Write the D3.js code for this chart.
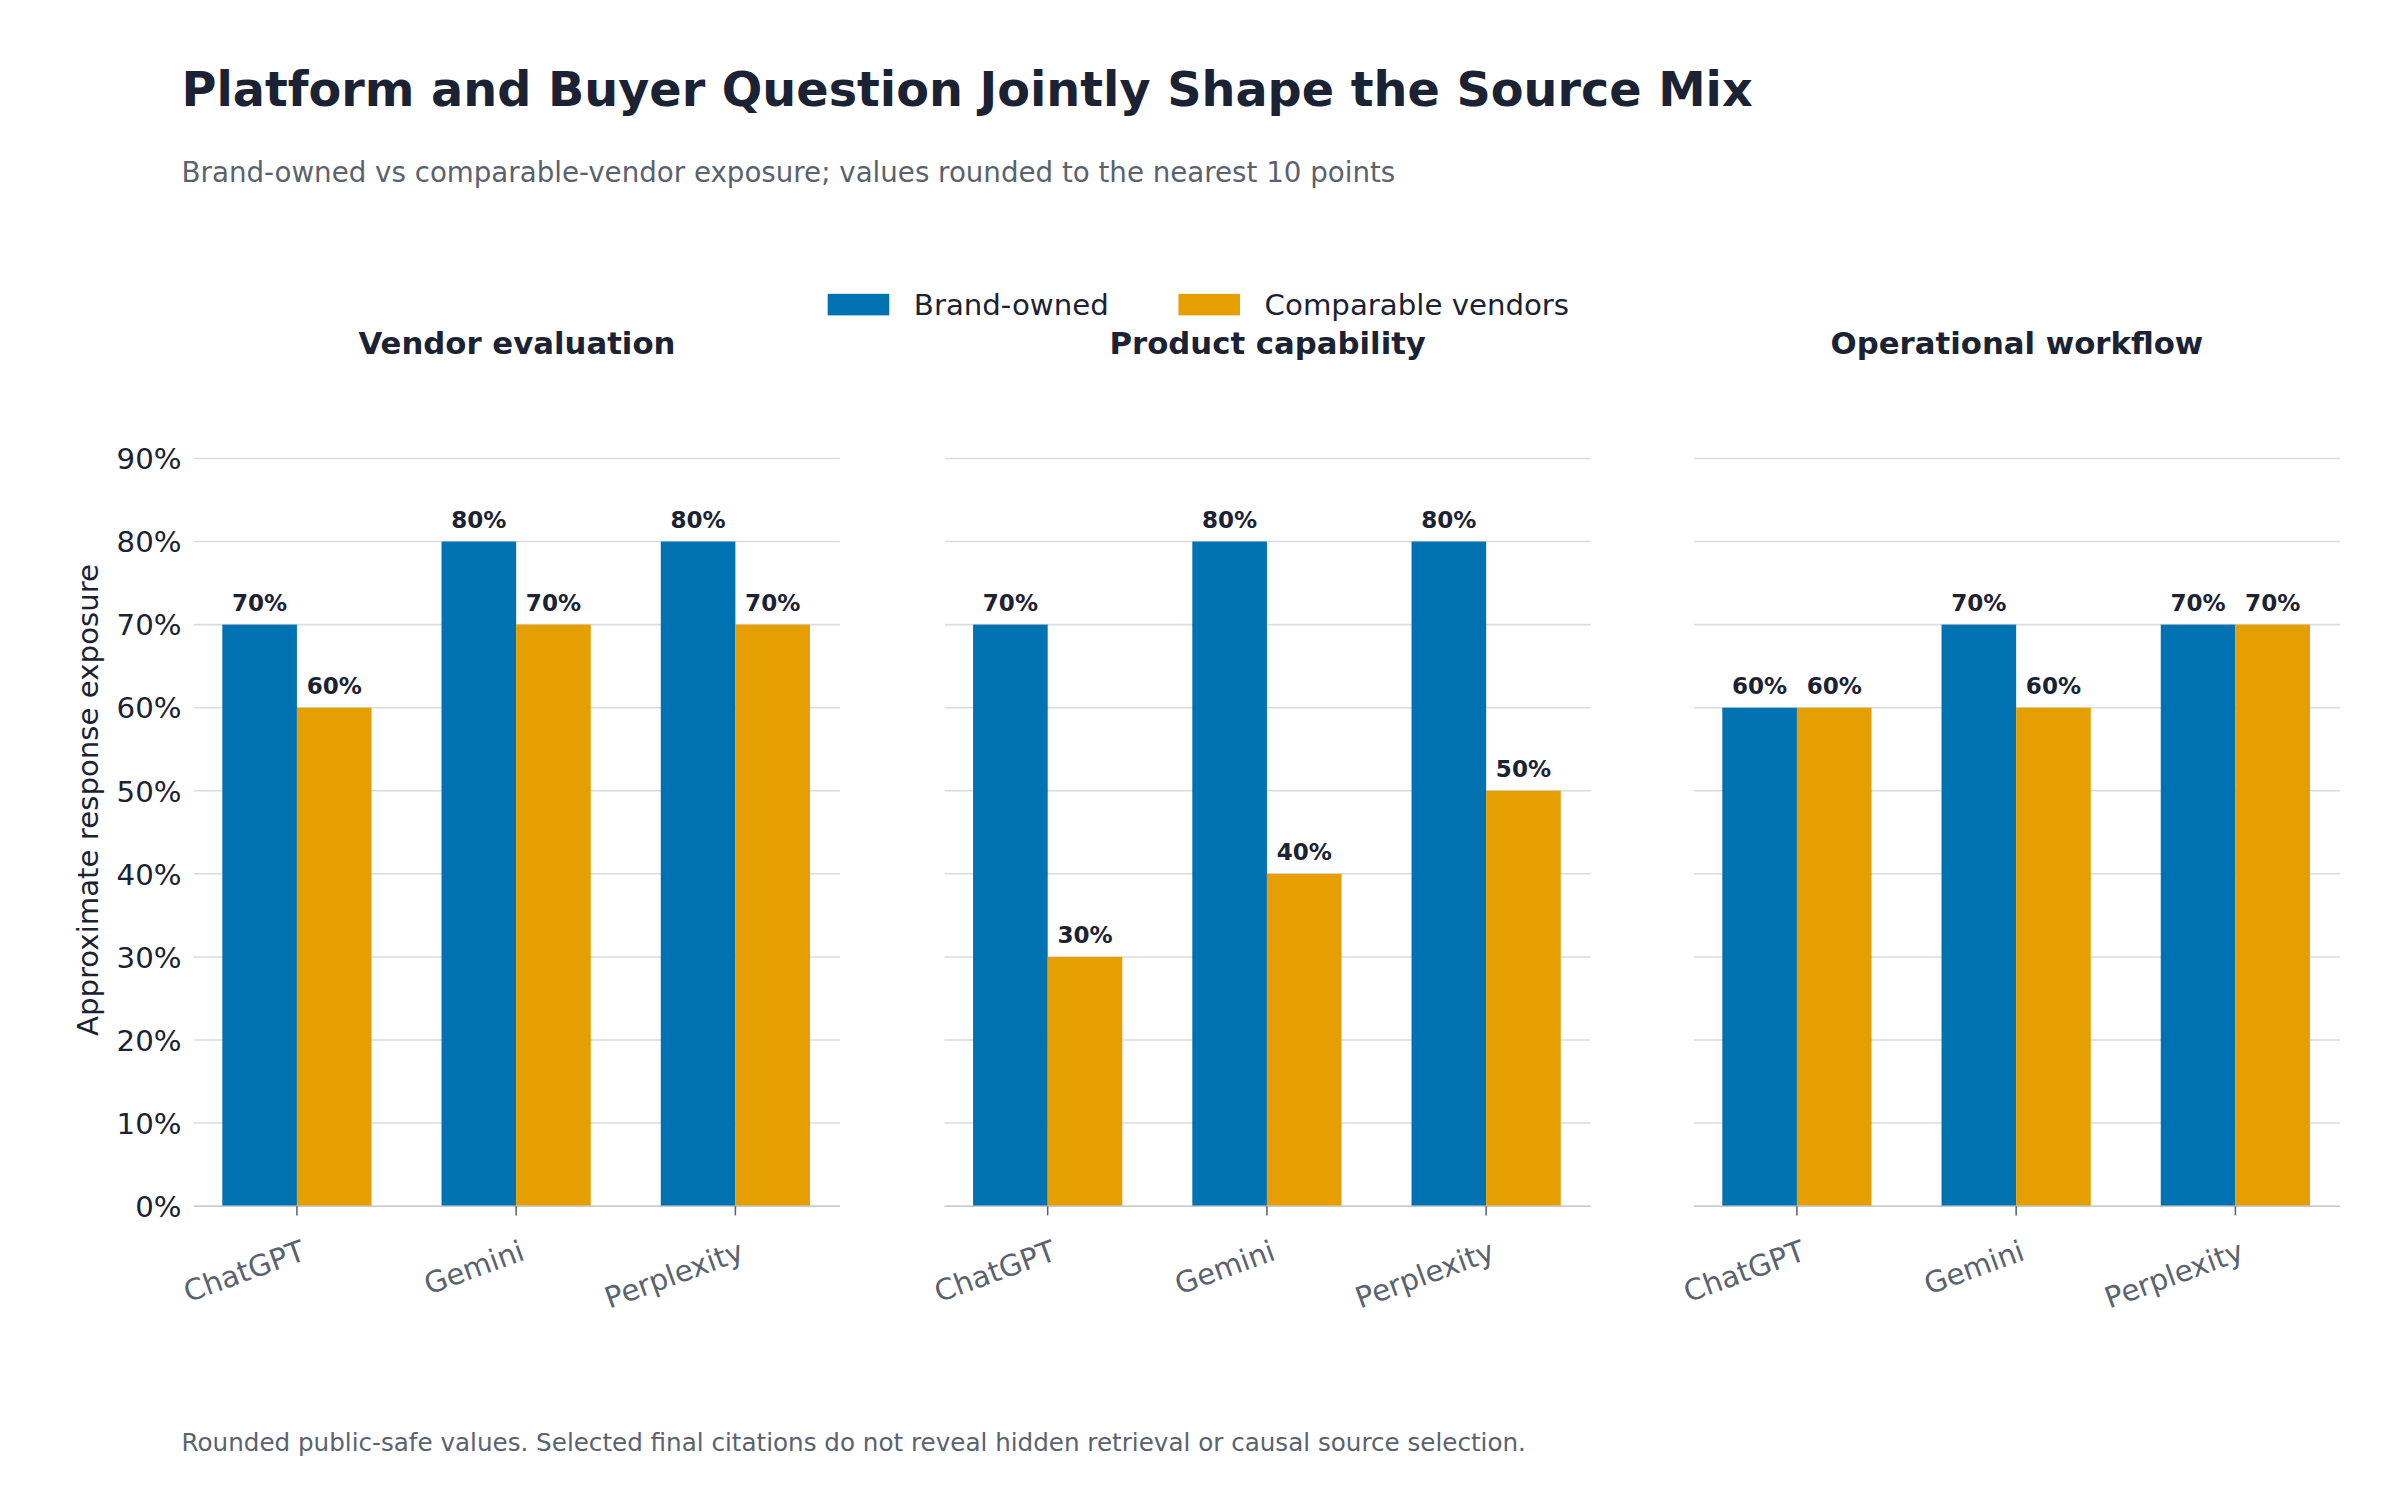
<script src="https://cdn.jsdelivr.net/npm/d3@7"></script>
<body style="margin:0;background:#fff"></body>
<script>
  // data
  var facets = ["Vendor evaluation", "Product capability", "Operational workflow"];
  var platforms = ["ChatGPT", "Gemini", "Perplexity"];
  var brandOwned = [[70, 80, 80], [70, 80, 80], [60, 70, 70]];
  var comparable = [[60, 70, 70], [30, 40, 50], [60, 60, 70]];
  var yTicks = [0, 10, 20, 30, 40, 50, 60, 70, 80, 90];

  var blue = "#0072B2", orange = "#E69F00", dark = "#1a2233", grey = "#5a6270";
  var font = "DejaVu Sans, sans-serif";

  // drawn in a 1560x975 space, scaled up to the window
  var svg = d3.select("body").append("svg")
    .attr("width", 2400).attr("height", 1500)
    .attr("viewBox", "0 0 1560 975")
    .style("font-family", font);

  svg.append("text").attr("x", 118).attr("y", 69)
    .attr("font-size", 31).attr("font-weight", "bold").attr("fill", dark)
    .text("Platform and Buyer Question Jointly Shape the Source Mix");
  svg.append("text").attr("x", 118).attr("y", 118)
    .attr("font-size", 18).attr("fill", grey)
    .text("Brand-owned vs comparable-vendor exposure; values rounded to the nearest 10 points");
  svg.append("text").attr("x", 118).attr("y", 943)
    .attr("font-size", 16).attr("fill", grey)
    .text("Rounded public-safe values. Selected final citations do not reveal hidden retrieval or causal source selection.");

  // legend
  var legend = [["Brand-owned", blue, 538], ["Comparable vendors", orange, 766]];
  legend.forEach(function(l) {
    svg.append("rect").attr("x", l[2]).attr("y", 191).attr("width", 40).attr("height", 14).attr("fill", l[1]);
    svg.append("text").attr("x", l[2] + 56).attr("y", 205).attr("font-size", 19).attr("fill", dark).text(l[0]);
  });

  var y = d3.scaleLinear().domain([0, 90]).range([784, 298]);
  var panelLeft = [126, 614, 1101];
  var panelW = 420;
  var barW = 48.5;

  svg.append("text")
    .attr("transform", "translate(64,520) rotate(-90)")
    .attr("text-anchor", "middle").attr("font-size", 19).attr("fill", dark)
    .text("Approximate response exposure");

  facets.forEach(function(f, i) {
    var x0 = panelLeft[i];
    var x = d3.scalePoint().domain(platforms).range([x0 + 67, x0 + 352]);
    var g = svg.append("g");

    g.append("text").attr("x", x0 + panelW / 2).attr("y", 230)
      .attr("text-anchor", "middle").attr("font-size", 20).attr("font-weight", "bold").attr("fill", dark)
      .text(f);

    g.selectAll(".grid").data(yTicks).enter().append("line")
      .attr("x1", x0).attr("x2", x0 + panelW)
      .attr("y1", function(d) { return y(d); }).attr("y2", function(d) { return y(d); })
      .attr("stroke", "#d9dce1").attr("stroke-width", 1);

    if (i === 0) {
      g.selectAll(".yl").data(yTicks).enter().append("text")
        .attr("x", 118).attr("y", function(d) { return y(d) + 7; })
        .attr("text-anchor", "end").attr("font-size", 19).attr("fill", dark)
        .text(function(d) { return d + "%"; });
    }

    var series = [[brandOwned[i], blue, -barW], [comparable[i], orange, 0]];
    series.forEach(function(s) {
      g.selectAll(null).data(platforms).enter().append("rect")
        .attr("x", function(d) { return x(d) + s[2]; })
        .attr("y", function(d, j) { return y(s[0][j]); })
        .attr("width", barW)
        .attr("height", function(d, j) { return y(0) - y(s[0][j]); })
        .attr("fill", s[1]);
      g.selectAll(null).data(platforms).enter().append("text")
        .attr("x", function(d) { return x(d) + s[2] + barW / 2; })
        .attr("y", function(d, j) { return y(s[0][j]) - 9; })
        .attr("text-anchor", "middle").attr("font-size", 15).attr("font-weight", "bold").attr("fill", dark)
        .text(function(d, j) { return s[0][j] + "%"; });
    });

    g.append("line").attr("x1", x0).attr("x2", x0 + panelW)
      .attr("y1", y(0)).attr("y2", y(0)).attr("stroke", "#c8ccd2");

    platforms.forEach(function(p) {
      g.append("line").attr("x1", x(p)).attr("x2", x(p))
        .attr("y1", y(0)).attr("y2", y(0) + 6).attr("stroke", grey);
      g.append("text")
        .attr("transform", "translate(" + (x(p) + 2) + "," + (y(0) + 22) + ") rotate(-20)")
        .attr("text-anchor", "end").attr("dy", "0.7em").attr("font-size", 19).attr("fill", grey)
        .text(p);
    });
  });
</script>
